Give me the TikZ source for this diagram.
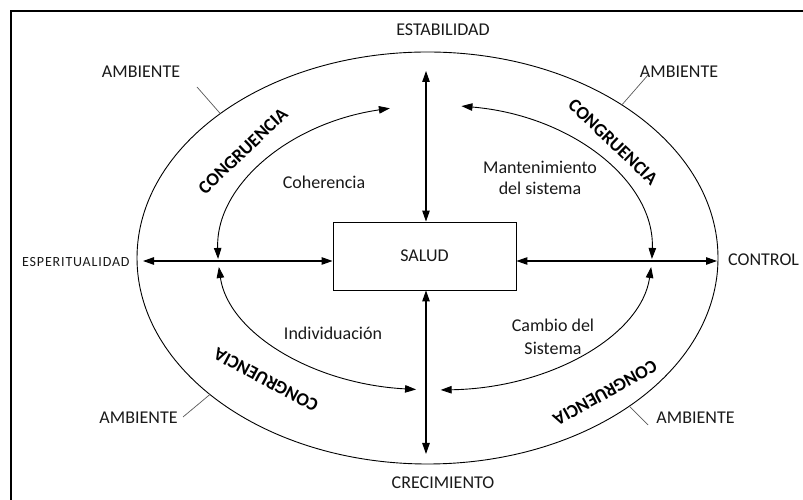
\documentclass[tikz,border=0pt]{standalone}
\usepackage{fontspec}
\setmainfont{Carlito}
\newfontfamily\spacedfont[LetterSpace=6]{Carlito}
\usetikzlibrary{arrows.meta,calc}
\begin{document}
\begin{tikzpicture}[x=1pt,y=1pt,
  lbl/.style={font=\fontsize{18}{21}\selectfont, inner sep=0pt, text=black!90},
  small/.style={font=\spacedfont\fontsize{14}{15}\selectfont, inner sep=0pt, text=black!90},
  cong/.style={font=\fontsize{18.5}{20}\selectfont\bfseries, inner sep=0pt},
  tip/.tip={Triangle[length=11pt,width=7.5pt]},
  arr/.style={line width=1.1pt, tip-tip},
  arcarr/.style={line width=0.9pt, tip-tip},
  lead/.style={line width=0.7pt, draw=black!65},
]
\useasboundingbox (0,0) rectangle (803,500);
% frame
\draw[line width=2pt] (11,0) -- (11,489) -- (803,489);

% outer ellipse
\coordinate (O) at (427.5,242);
\draw[line width=0.9pt] (O) ellipse [x radius=290.5pt, y radius=206pt];

% central box
\node[draw, line width=0.9pt, minimum width=183pt, minimum height=68pt, lbl] (salud) at (424.5,244) {SALUD};

% axes
\coordinate (Lend) at (143,239);
\coordinate (Rend) at (717,239);
\coordinate (Tend) at (426,429);
\coordinate (Bend) at (426,46);
\draw[arr] (Lend) -- (salud.west |- Lend);
\draw[arr] (salud.east |- Rend) -- (Rend);
\draw[arr] (Tend) -- (salud.north -| Tend);
\draw[arr] (salud.south -| Bend) -- (Bend);

% outer labels
\node[lbl] (estab) at (443,470) {ESTABILIDAD};
\node[lbl] (crec) at (443,17) {CRECIMIENTO};
\node[small, anchor=west] (esp) at (22,238) {ESPERITUALIDAD};
\node[lbl, anchor=west] (ctrl) at (728,240) {CONTROL};

% ambiente labels and leaders
\node[lbl] (amb1) at (141,428) {AMBIENTE};
\node[lbl] (amb2) at (679,428) {AMBIENTE};
\node[lbl] (amb3) at (138.5,82) {AMBIENTE};
\node[lbl] (amb4) at (695.5,82) {AMBIENTE};
\coordinate (l1) at (197,413);
\coordinate (l2) at (648,425);
\coordinate (l3) at (183,83);
\coordinate (l4) at (648,75);
\coordinate (e1) at ($(O)+(135.5:290.5pt and 206pt)$);
\coordinate (e2) at ($(O)+(48:290.5pt and 206pt)$);
\coordinate (e3) at ($(O)+(221.5:290.5pt and 206pt)$);
\coordinate (e4) at ($(O)+(314:290.5pt and 206pt)$);
\draw[lead] (l1) -- (e1);
\draw[lead] (l2) -- (e2);
\draw[lead] (l3) -- (e3);
\draw[lead] (l4) -- (e4);

% congruencia labels
\node[cong, rotate=43.6] (c1) at (243,349) {CONGRUENCIA};
\node[cong, rotate=-43.6] (c2) at (613,358) {CONGRUENCIA};
\node[cong, rotate=152] (c3) at (266,120) {CONGRUENCIA};
\node[cong, rotate=209] (c4) at (605,107) {CONGRUENCIA};

% inner arcs
\coordinate (Ci) at (435,245);
\draw[arcarr] ($(Ci)+(102:217pt and 150pt)$) arc[start angle=102, end angle=181.5, x radius=217pt, y radius=150pt];
\draw[arcarr] ($(Ci)+(83:217pt and 150pt)$) arc[start angle=83, end angle=-1.5, x radius=217pt, y radius=150pt];
\draw[arcarr] ($(Ci)+(185.1:217pt and 135pt)$) arc[start angle=185.1, end angle=265, x radius=217pt, y radius=135pt];
\draw[arcarr] ($(Ci)+(-5.1:217pt and 135pt)$) arc[start angle=-5.1, end angle=-88.5, x radius=217pt, y radius=135pt];

% inner labels
\node[lbl] (coh) at (324,318) {Coherencia};
\node[lbl, align=center] (mant) at (540,322.5) {Mantenimiento\\del sistema};
\node[lbl] (ind) at (333,167) {Individuación};
\node[lbl, align=center, font=\fontsize{18}{23}\selectfont] (camb) at (553,163.5) {Cambio del\\Sistema};
\end{tikzpicture}
\end{document}
